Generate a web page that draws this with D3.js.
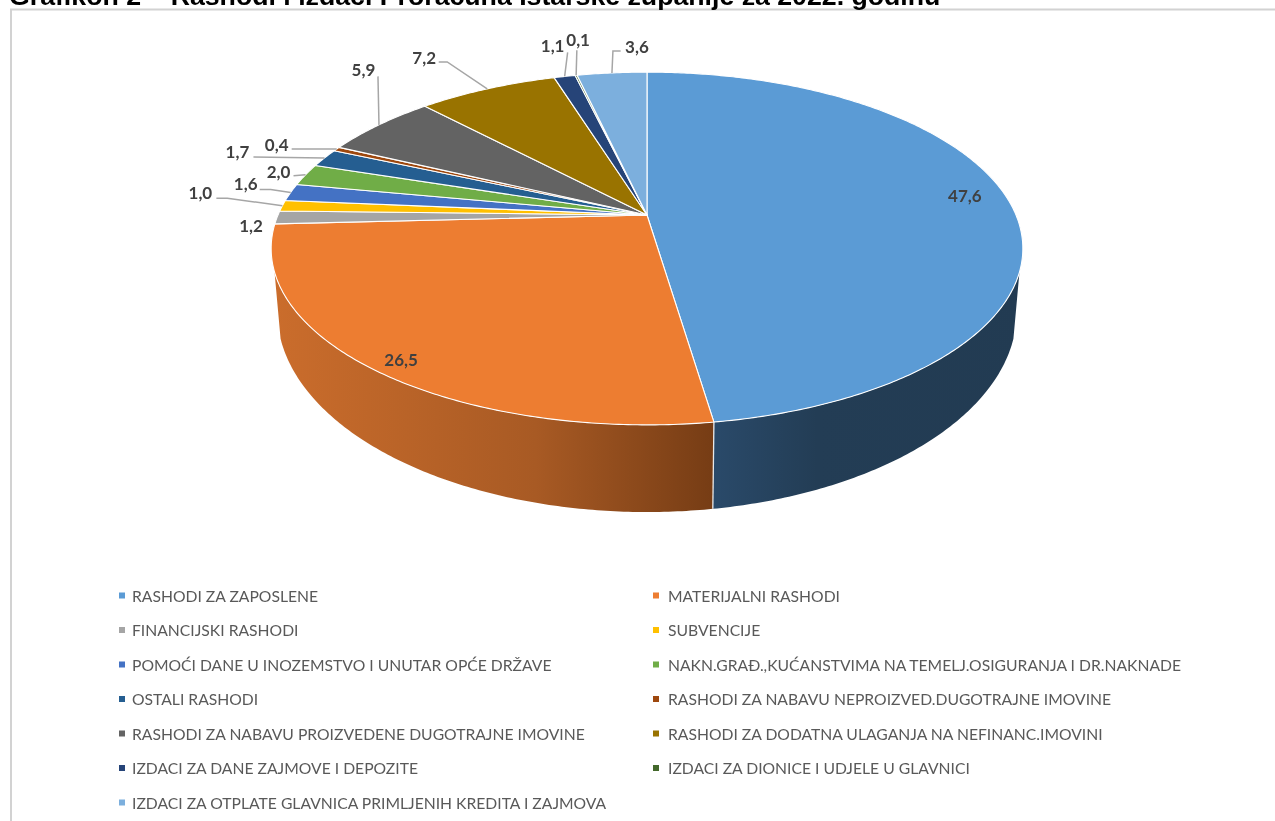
<!DOCTYPE html>
<html>
<head>
<meta charset="utf-8">
<script src="https://cdn.jsdelivr.net/npm/d3@7"></script>
<style>
  html, body { margin: 0; padding: 0; background: #fff; overflow: hidden; }
  svg { display: block; }
</style>
</head>
<body>
<div id="chart"></div>
<script>
var titleText = "Grafikon 2 – Rashodi i izdaci Proračuna Istarske županije za 2022. godinu"

var categories = [
  "RASHODI ZA ZAPOSLENE",
  "MATERIJALNI RASHODI",
  "FINANCIJSKI RASHODI",
  "SUBVENCIJE",
  "POMOĆI DANE U INOZEMSTVO I UNUTAR OPĆE DRŽAVE",
  "NAKN.GRAĐ.,KUĆANSTVIMA NA TEMELJ.OSIGURANJA I DR.NAKNADE",
  "OSTALI RASHODI",
  "RASHODI ZA NABAVU NEPROIZVED.DUGOTRAJNE IMOVINE",
  "RASHODI ZA NABAVU PROIZVEDENE DUGOTRAJNE IMOVINE",
  "RASHODI ZA DODATNA ULAGANJA NA NEFINANC.IMOVINI",
  "IZDACI ZA DANE ZAJMOVE I DEPOZITE",
  "IZDACI ZA DIONICE I UDJELE U GLAVNICI",
  "IZDACI ZA OTPLATE GLAVNICA PRIMLJENIH KREDITA I ZAJMOVA"
]
var values = [47.6, 26.5, 1.2, 1.0, 1.6, 2.0, 1.7, 0.4, 5.9, 7.2, 1.1, 0.1, 3.6]
var colors = ["#5b9bd5", "#ed7d31", "#a5a5a5", "#ffc000", "#4472c4", "#70ad47", "#255e91", "#9e480e", "#636363", "#997300", "#264478", "#43682b", "#7cafdd"]

// label offset from the slice's rim point, then the bends of the leader line
var labelOffsets = [[-45, -7], [28, -9], [-26, 9], [-82, -12.5], [-45, -8], [-27, -3], [-87, -6], [-60, -4], [-15.5, -54.5], [-63, -31], [-12, -30], [2, -35.5], [25, -26]]
var leaderBends = [
  null, null, null,
  [[-55, -7.5], [-66, -7.5]],
  [[-20, -3], [-31, -3]],
  [[-12, 1]],
  [[-71, -1]],
  [[-45, 0]],
  [[-1, -48.5]],
  [[-40, -27], [-48.5, -27]],
  [[3, -24]],
  [[0.7, -25]],
  [[1, -22], [8.7, -22]]
]

var width = 1275
var height = 821
var cx = 647
var tilt = 0.19

var svg = d3.select("#chart").append("svg")
  .attr("width", width)
  .attr("height", height)
  .style("filter", "blur(0.45px)")

var defs = svg.append("defs")

function sideGradient(id, stops) {
  var g = defs.append("linearGradient").attr("id", id)
    .attr("gradientUnits", "userSpaceOnUse")
    .attr("x1", 270).attr("x2", 1030).attr("y1", 0).attr("y2", 0)
  stops.forEach(s => g.append("stop").attr("offset", s[0]).attr("stop-color", s[1]))
}
sideGradient("side0", [[0.58, "#2a4a6a"], [0.72, "#233d55"], [1, "#223b52"]])
sideGradient("side1", [[0, "#cb6d2c"], [0.35, "#a85a24"], [0.58, "#773d15"]])

// circle -> screen, with the perspective of the Excel 3D pie
function project(angle, plane) {
  var u = Math.sin(angle)
  var v = -Math.cos(angle)
  var w = 1 - tilt * v
  return [cx + plane.rx * u / w, plane.y + plane.ry * v / w]
}
var topPlane = { rx: 369, ry: 170, y: 215 }
var bottomPlane = { rx: 363, ry: 192.8, y: 274 }

function rimPoints(a0, a1, plane) {
  var n = Math.max(2, Math.ceil(Math.abs(a1 - a0) / 0.01))
  return d3.range(n + 1).map(i => project(a0 + (a1 - a0) * i / n, plane))
}

var line = d3.line()
var pie = d3.pie().sort(null).value(d => d)
var slices = pie(values)

// front wall is visible only between these two angles
var wallFrom = 108.4 * Math.PI / 180
var wallTo = 251.6 * Math.PI / 180

var walls = svg.append("g").attr("class", "walls")
slices.forEach((s, i) => {
  var a0 = Math.max(s.startAngle, wallFrom)
  var a1 = Math.min(s.endAngle, wallTo)
  if (a1 <= a0) return
  var pts = rimPoints(a0, a1, topPlane).concat(rimPoints(a1, a0, bottomPlane))
  walls.append("path")
    .attr("d", line(pts) + "Z")
    .attr("fill", `url(#side${i})`)
})
walls.append("path")
  .attr("d", line([project(slices[0].endAngle, topPlane), project(slices[0].endAngle, bottomPlane)]))
  .attr("stroke", "#e8e8e8")
  .attr("stroke-width", 1.3)
  .attr("fill", "none")

svg.append("g").attr("class", "slices")
  .selectAll("path")
  .data(slices)
  .enter().append("path")
  .attr("d", d => line([[cx, topPlane.y]].concat(rimPoints(d.startAngle, d.endAngle, topPlane))) + "Z")
  .attr("fill", (d, i) => colors[i])
  .attr("stroke", "#fff")
  .attr("stroke-width", 1.1)
  .attr("stroke-linejoin", "round")

var anchors = slices.map(s => project((s.startAngle + s.endAngle) / 2, topPlane))

svg.append("g").attr("class", "leaders")
  .selectAll("path")
  .data(slices.filter((d, i) => leaderBends[i]))
  .enter().append("path")
  .attr("d", d => {
    var a = anchors[d.index]
    return line([a].concat(leaderBends[d.index].map(b => [a[0] + b[0], a[1] + b[1]])))
  })
  .attr("fill", "none")
  .attr("stroke", "#a6a6a6")
  .attr("stroke-width", 1.5)

svg.append("g").attr("class", "labels")
  .selectAll("text")
  .data(slices)
  .enter().append("text")
  .attr("x", d => anchors[d.index][0] + labelOffsets[d.index][0])
  .attr("y", d => anchors[d.index][1] + labelOffsets[d.index][1])
  .attr("dy", "0.35em")
  .attr("text-anchor", "middle")
  .attr("font-family", "Lato")
  .attr("font-weight", 700)
  .attr("font-size", 17)
  .attr("fill", "#404040")
  .text(d => d.value.toFixed(1).replace(".", ","))

// legend runs left to right, two columns
var rowY = d3.scalePoint().domain(d3.range(7)).range([596, 803])
var colX = d3.scaleOrdinal().domain([0, 1]).range([119, 653])
var colText = d3.scaleOrdinal().domain([0, 1]).range([132, 668])

var legend = svg.append("g").attr("class", "legend")
  .selectAll("g")
  .data(categories)
  .enter().append("g")
  .attr("transform", (d, i) => `translate(0,${rowY(Math.floor(i / 2))})`)

legend.append("rect")
  .attr("x", (d, i) => colX(i % 2))
  .attr("y", -3.5)
  .attr("width", 6)
  .attr("height", 6)
  .attr("fill", (d, i) => colors[i])

legend.append("text")
  .attr("x", (d, i) => colText(i % 2))
  .attr("dy", "0.36em")
  .attr("font-family", "Lato")
  .attr("font-size", 15.7)
  .attr("fill", "#595959")
  .text(d => d)

// frame of the chart object
svg.append("path")
  .attr("d", `M11,${height}V9.5H${width}`)
  .attr("fill", "none")
  .attr("stroke", "#d2d2d2")
  .attr("stroke-width", 2)

svg.append("text")
  .attr("x", 9)
  .attr("y", 5)
  .attr("font-family", "Liberation Sans")
  .attr("font-weight", 700)
  .attr("font-size", 26.7)
  .attr("fill", "#000")
  .text(titleText)
</script>
</body>
</html>
